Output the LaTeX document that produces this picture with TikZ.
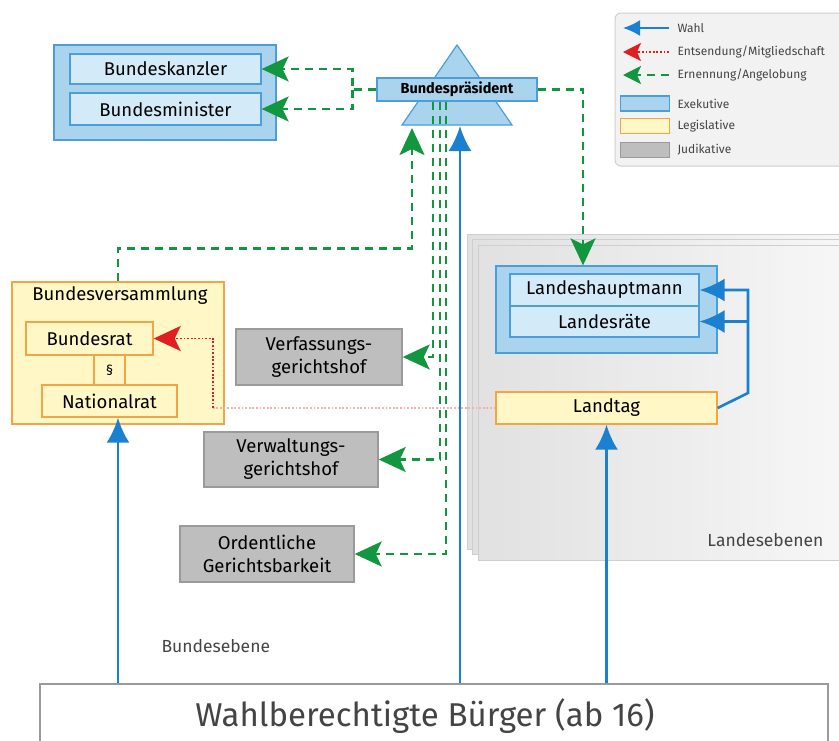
\documentclass[tikz,border=0pt]{standalone}
\usepackage{fontspec}
\setmainfont{Fira Sans}
\usetikzlibrary{arrows.meta, calc}
\definecolor{wahlblau}{HTML}{1B80CF}
\definecolor{ernenngruen}{HTML}{12963F}
\definecolor{entsendrot}{HTML}{E02020}
\definecolor{exekrand}{HTML}{4C9ED9}
\definecolor{exekfuell}{HTML}{AAD3EE}
\definecolor{exekhell}{HTML}{D3EBF8}
\definecolor{legisrand}{HTML}{F2A544}
\definecolor{legisfuell}{HTML}{FFF8C6}
\definecolor{judirand}{HTML}{9A9A9A}
\definecolor{judifuell}{HTML}{BEBEBE}
\definecolor{panelrand}{HTML}{CFCFCF}
\definecolor{panelA}{HTML}{E1E1E1}
\definecolor{panelB}{HTML}{F7F7F7}
\definecolor{legendfuell}{HTML}{F2F2F2}
\definecolor{schriftgrau}{HTML}{444444}
\newcommand\boxschrift{\fontsize{18.5}{23}\selectfont}
\newcommand\praesschrift{\fontsize{14.5}{16}\selectfont\bfseries}
\newcommand\legendschrift{\fontsize{12}{14}\selectfont}
\newcommand\ebenenschrift{\fontsize{17.5}{20}\selectfont}
\newcommand\buergerschrift{\fontsize{33}{38}\selectfont}
\tikzset{
    wahl/.style={draw=wahlblau, line width=2.6pt,
        -{Latex[length=25pt, width=23pt]}},
    ernennung/.style={draw=ernenngruen, line width=2.4pt,
        dash pattern=on 8pt off 6pt, -{Stealth[length=27pt, width=25pt, inset=6pt]}},
    entsendung/.style={draw=entsendrot, line width=1.8pt,
        dash pattern=on 1.8pt off 1.8pt, -{Stealth[length=27pt, width=25pt, inset=6pt]}},
    exekfarbe/.style={draw=exekrand, fill=exekfuell, line width=1.2pt},
    amt/.style={inner sep=0pt, font=\boxschrift, align=center},
    exekgruppe/.style={exekfarbe, amt},
    exekamt/.style={amt, draw=exekrand, fill=exekhell, line width=1.2pt},
    legislative/.style={amt, draw=legisrand, fill=legisfuell, line width=1.4pt},
    judikative/.style={amt, draw=judirand, fill=judifuell, line width=1.4pt},
    legende/.style={font=\legendschrift, anchor=west, text=schriftgrau},
}
\begin{document}
\begin{tikzpicture}[x=1pt, y=-1pt]
    \useasboundingbox (0,0) rectangle (839,740);
    % Landesebenen als Stapel
    \foreach \d in {11,6,0}
        \shade[draw=panelrand, line width=1pt, left color=panelA, right color=panelB]
            (478-\d,245-\d) rectangle (850,560-\d);
    \node[font=\ebenenschrift, text=schriftgrau, anchor=east] (landesebenen) at (827,540) {Landesebenen};
    \node[font=\ebenenschrift, text=schriftgrau, anchor=west] (bundesebene) at (158,646) {Bundesebene};

    \node[exekgruppe, minimum width=222pt, minimum height=95pt] (bundexek) at (165,92.5) {};
    \node[exekamt, minimum width=191pt, minimum height=30pt] (kanzler) at (165.5,69) {Bundeskanzler};
    \node[exekamt, minimum width=191pt, minimum height=32pt] (minister) at (165.5,109) {Bundesminister};

    \draw[exekfarbe] (402,125) -- (457,45) -- (512,125) -- cycle;
    \node[exekfarbe, inner sep=0pt, minimum width=160pt, minimum height=23pt, font=\praesschrift]
        (praesident) at (457,89.5) {Bundespräsident};
    \coordinate (ernennziel) at (412,128);
    \coordinate (wahlziel) at (460,126);

    \node[judikative, minimum width=166pt, minimum height=56pt] (vfgh) at (319,357) {Verfassungs-\\gerichtshof};
    \node[judikative, minimum width=174pt, minimum height=55pt] (vwgh) at (291,459.5) {Verwaltungs-\\gerichtshof};
    \node[judikative, minimum width=174pt, minimum height=56pt] (ogh) at (267,554) {Ordentliche\\Gerichtsbarkeit};

    \node[legislative, minimum width=212pt, minimum height=142pt] (bversamml) at (118,353) {};
    \node[font=\boxschrift] (bvtitel) at (120,296) {Bundesversammlung};
    \node[legislative, minimum width=31pt, minimum height=30pt, font=\fontsize{14}{16}\selectfont] (paragraph) at (109.5,370) {\S};
    \node[legislative, minimum width=127pt, minimum height=33pt] (bundesrat) at (89.5,338.5) {Bundesrat};
    \node[legislative, minimum width=135pt, minimum height=32pt] (nationalrat) at (109.5,401) {Nationalrat};

    \node[exekgruppe, minimum width=221pt, minimum height=87pt] (landexek) at (606.5,309.5) {};
    \node[exekamt, minimum width=189pt, minimum height=32pt] (lhptm) at (604.5,290) {Landeshauptmann};
    \node[exekamt, minimum width=189pt, minimum height=31pt] (lraete) at (604.5,321.5) {Landesräte};
    \node[legislative, minimum width=221pt, minimum height=32pt] (landtag) at (606.5,408) {Landtag};

    \node[draw=judirand, fill=white, line width=1.5pt, minimum width=788pt, minimum height=76pt] (buerger) at (434,722) {};
    \node[font=\buergerschrift, text=schriftgrau] (buergertitel) at (425,716) {Wahlberechtigte Bürger (ab 16)};

    \draw[wahl] (buerger.north -| bversamml.south) -- (bversamml.south |- nationalrat.south);
    \draw[wahl] (buerger.north -| wahlziel) -- (wahlziel);
    \draw[wahl] (buerger.north -| landtag.south) -- (landtag.south);
    \coordinate (landknick) at (748,393);
    \draw[wahl] (landtag.east) -- (landknick) |- (lhptm.east);
    \draw[wahl] (landknick) |- (lraete.east);

    \draw[ernennung] (praesident.west) -- ++(-24,0) coordinate (bpknick) |- (kanzler.east);
    \draw[ernennung] (bpknick) |- (minister.east);
    \draw[ernennung] (praesident.east) -| ([xshift=-23.5pt]landexek.north);
    \draw[ernennung] (bversamml.north) -- ++(0,-33) -| (ernennziel);
    \draw[ernennung] ([xshift=-24pt]praesident.south) |- (vfgh.east);
    \draw[ernennung] ([xshift=-17pt]praesident.south) |- (vwgh.east);
    \draw[ernennung] ([xshift=-11pt]praesident.south) |- (ogh.east);

    \coordinate (rotknick) at (213,408);
    \draw[entsendung, draw=entsendrot!35, -] (landtag.west) -- (rotknick);
    \draw[entsendung] (rotknick) |- (bundesrat.east);

    % Legende
    \draw[draw=panelrand, fill=legendfuell, line width=1pt, rounded corners=6pt] (615,13) rectangle (850,166);
    \begin{scope}[every node/.append style={legende}]
        \node (lgwahl) at (674,28) {Wahl};
        \node (lgentsend) at (674,52) {Entsendung/Mitgliedschaft};
        \node (lgernenn) at (674,75) {Ernennung/Angelobung};
        \node (lgexek) at (674,103.5) {Exekutive};
        \node (lglegis) at (674,126) {Legislative};
        \node (lgjudi) at (674,150) {Judikative};
    \end{scope}
    \draw[wahl, line width=2pt, -{Latex[length=17pt, width=16pt]}] ([xshift=-5pt]lgwahl.west) -- ++(-46,0);
    \draw[entsendung, line width=1.5pt, -{Stealth[length=18pt, width=18pt, inset=4pt]}] ([xshift=-5pt]lgentsend.west) -- ++(-46,0);
    \draw[ernennung, line width=2pt, -{Stealth[length=18pt, width=18pt, inset=4pt]}] ([xshift=-5pt]lgernenn.west) -- ++(-46,0);
    \node[exekfarbe, minimum width=49pt, minimum height=15pt, anchor=east] (swexek) at ([xshift=-4pt]lgexek.west) {};
    \node[legislative, minimum width=49pt, minimum height=15pt, anchor=east] (swlegis) at ([xshift=-4pt]lglegis.west) {};
    \node[judikative, minimum width=49pt, minimum height=15pt, anchor=east] (swjudi) at ([xshift=-4pt]lgjudi.west) {};
\end{tikzpicture}
\end{document}
